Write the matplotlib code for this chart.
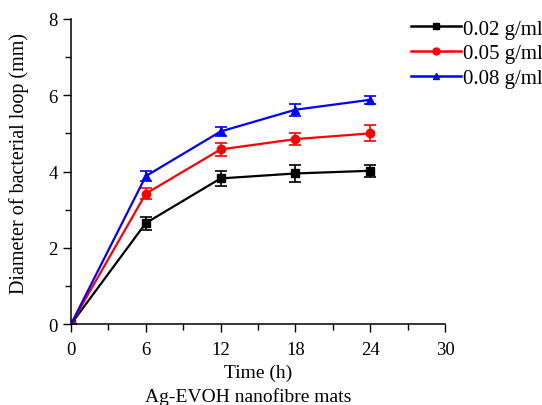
import matplotlib
matplotlib.use("Agg")
import matplotlib.pyplot as plt
from matplotlib.ticker import MultipleLocator
from matplotlib.lines import Line2D

plt.rcParams['font.family'] = ['Liberation Serif', 'DejaVu Serif']

# Data
time_h = [0, 6, 12, 18, 24]
labels = ['0.02 g/ml', '0.05 g/ml', '0.08 g/ml']
d_002 = [0, 2.65, 3.82, 3.95, 4.02]
e_002 = [0, 0.17, 0.20, 0.22, 0.16]
d_005 = [0, 3.42, 4.58, 4.85, 5.00]
e_005 = [0, 0.15, 0.17, 0.15, 0.21]
d_008 = [0, 3.88, 5.05, 5.62, 5.88]
e_008 = [0, 0.14, 0.13, 0.16, 0.11]

fig = plt.figure(figsize=(5.42, 4.06), dpi=100)
ax = fig.add_axes([0.131, 0.199, 0.690, 0.752])

series = [(d_002, e_002, 'black', 's'),
          (d_005, e_005, 'red', 'o'),
          (d_008, e_008, 'blue', '^')]
handles = []
for (d, e, c, m), lab in zip(series, labels):
    ax.errorbar(time_h, d, yerr=e, color=c, marker=m, markersize=6,
                lw=1.6, capsize=4, elinewidth=1.2, capthick=1.2)
    handles.append(Line2D([], [], color=c, marker=m, markersize=5, lw=1.8, label=lab))

ax.set_xlim(0, 30)
ax.set_ylim(0, 8)
ax.xaxis.set_major_locator(MultipleLocator(6))
ax.xaxis.set_minor_locator(MultipleLocator(3))
ax.yaxis.set_major_locator(MultipleLocator(2))
ax.yaxis.set_minor_locator(MultipleLocator(1))
ax.tick_params(which='major', direction='out', length=6, width=1, labelsize=13.5)
ax.tick_params(axis='x', which='major', pad=6)
ax.tick_params(which='minor', direction='out', length=4, width=1)
for s in ['top', 'right']:
    ax.spines[s].set_visible(False)
for s in ['left', 'bottom']:
    ax.spines[s].set_linewidth(1.1)

ax.set_xlabel('Time (h)', fontsize=14)
ax.xaxis.set_label_coords(0.5, -0.128)
ax.set_ylabel('Diameter of bacterial loop (mm)', fontsize=14.5)
ax.yaxis.set_label_coords(-0.112, 0.531)
fig.text(0.458, 0.022, 'Ag-EVOH nanofibre mats', ha='center', va='center', fontsize=14)

ax.legend(handles=handles, loc='upper left', bbox_to_anchor=(0.7234, 0.997),
          bbox_transform=fig.transFigure, frameon=False, fontsize=15,
          handlelength=2.4, handletextpad=0.1, labelspacing=0.25)

fig.savefig('out.png', dpi=100)
